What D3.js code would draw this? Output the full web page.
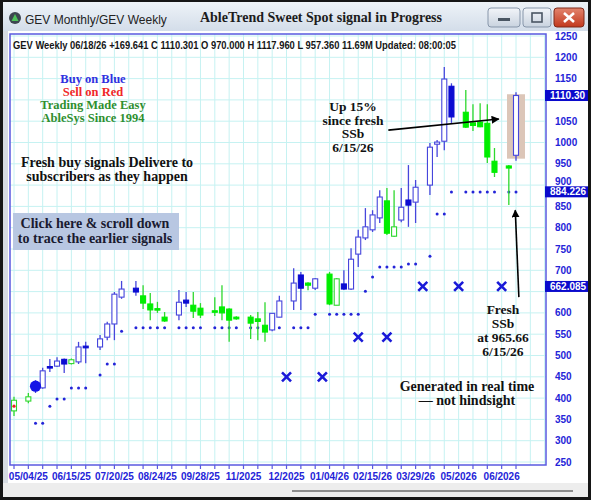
<!DOCTYPE html>
<html>
<head>
<meta charset="utf-8">
<script src="https://cdn.jsdelivr.net/npm/d3@7"></script>
<style>
  body { margin: 0; background: #000; }
</style>
</head>
<body>
<script>
// weekly bars: [slot, open, high, low, close, trend]  (b = blue, g = green)
const bars = [
  [0, 370, 403, 358, 395, 'g'],
  [2, 393, 412, 388, 403, 'g'],
  [3, 418, 442, 412, 436, 'b'],
  [4, 424, 471, 422, 464, 'b'],
  [5, 474, 492, 461, 472, 'b'],
  [6, 475, 496, 473, 487, 'b'],
  [7, 491, 493, 459, 480, 'b'],
  [8, 481, 493, 479, 490, 'g'],
  [9, 485, 532, 480, 520, 'b'],
  [10, 522, 532, 482, 518, 'b'],
  [12, 520, 548, 513, 539, 'b'],
  [13, 543, 579, 536, 574, 'b'],
  [14, 574, 649, 536, 644, 'b'],
  [15, 637, 675, 633, 656, 'b'],
  [17, 658, 675, 640, 649, 'b'],
  [18, 640, 665, 609, 623, 'g'],
  [19, 621, 647, 583, 607, 'g'],
  [20, 610, 626, 600, 609, 'g'],
  [21, 590, 602, 579, 581, 'g'],
  [23, 595, 654, 583, 625, 'b'],
  [24, 630, 649, 614, 623, 'b'],
  [25, 618, 649, 588, 604, 'g'],
  [26, 611, 623, 588, 595, 'g'],
  [28, 605, 637, 593, 603, 'g'],
  [29, 614, 665, 583, 600, 'g'],
  [30, 609, 611, 532, 583, 'g'],
  [31, 590, 592, 584, 586, 'g'],
  [33, 590, 595, 539, 576, 'g'],
  [34, 586, 602, 536, 580, 'g'],
  [35, 571, 625, 532, 555, 'g'],
  [36, 560, 600, 557, 599, 'b'],
  [37, 590, 640, 590, 628, 'b'],
  [39, 628, 705, 607, 670, 'b'],
  [40, 689, 696, 607, 658, 'b'],
  [41, 670, 672, 653, 665, 'g'],
  [42, 658, 682, 654, 680, 'b'],
  [44, 691, 696, 618, 621, 'g'],
  [45, 618, 682, 618, 680, 'g'],
  [46, 668, 700, 654, 656, 'b'],
  [47, 656, 752, 654, 726, 'b'],
  [48, 738, 795, 708, 778, 'b'],
  [49, 776, 846, 771, 802, 'b'],
  [50, 795, 841, 790, 830, 'b'],
  [51, 823, 888, 811, 872, 'b'],
  [52, 863, 893, 783, 787, 'g'],
  [53, 780, 888, 778, 802, 'g'],
  [54, 818, 893, 813, 848, 'b'],
  [55, 865, 947, 802, 853, 'b'],
  [56, 860, 912, 811, 895, 'b'],
  [58, 900, 999, 877, 989, 'b'],
  [59, 996, 1006, 966, 1001, 'b'],
  [60, 1003, 1177, 982, 1149, 'b'],
  [61, 1132, 1139, 1046, 1060, 'b'],
  [63, 1071, 1123, 1034, 1036, 'g'],
  [64, 1046, 1090, 1027, 1040, 'g'],
  [65, 1048, 1092, 1036, 1037, 'g'],
  [66, 1045, 1090, 952, 966, 'g'],
  [67, 956, 987, 919, 930, 'g'],
  [69, 945, 947, 853, 940, 'g'],
  [70, 970, 1117.96, 957.36, 1110.30, 'b']
];

// trailing support dots: [slot, price]
const stopDots = [
  [3, 341], [4, 341], [5, 381], [6, 398], [7, 398],
  [8, 424], [9, 424], [10, 424], [12, 454], [13, 480], [14, 480], [15, 557],
  [17, 565], [18, 565], [19, 565], [20, 565], [21, 565],
  [23, 565], [24, 565], [25, 565], [26, 565],
  [28, 565], [29, 565], [30, 565], [31, 565],
  [33, 565], [34, 565], [35, 565], [36, 565], [37, 565],
  [39, 565], [40, 565], [41, 565], [42, 597],
  [44, 597], [45, 597], [46, 597], [47, 597], [48, 597],
  [49, 651], [50, 684], [51, 708], [52, 708], [53, 708], [54, 708],
  [55, 715], [56, 715], [58, 733], [59, 832], [60, 832], [61, 884],
  [63, 884], [64, 884], [65, 884], [66, 884], [67, 884], [69, 884], [70, 884]
];

// blue X marks: [slot, price]
const crossMarks = [[38, 450], [43, 450], [48, 543], [52, 543], [57, 662.085], [62, 662.085], [68, 662.085]];
const buyDot = [3, 428];
const sellDot = [0, 381];

const dateTicks = [
  [2, '05/04/25'], [8, '06/15/25'], [14, '07/20/25'], [20, '08/24/25'],
  [26, '09/28/25'], [32, '11/2025'], [38, '12/2025'], [44, '01/04/26'],
  [50, '02/15/26'], [56, '03/29/26'], [62, '05/2026'], [68, '06/2026']
];
const priceTicks = [250, 300, 350, 400, 450, 500, 550, 600, 650, 700, 750,
  800, 850, 900, 950, 1000, 1050, 1100, 1150, 1200, 1250];
const levelTags = [[1110.30, '1110.30'], [884.226, '884.226'], [662.085, '662.085']];

const W = 591, H = 500;
const plot = {l: 10, r: 546, t: 34, b: 465};
const serif = "'Liberation Serif','Times New Roman',serif";
const narrow = "'Liberation Sans Narrow','Arial Narrow',sans-serif";
const sans = "'Liberation Sans',Arial,sans-serif";
const blue = '#2424d8';

const x = d3.scaleLinear().domain([0, 70]).range([14, 516]);
const y = d3.scaleLinear().domain([250, 1250]).range([462, 36]);

const svg = d3.select('body').append('svg')
  .attr('width', W)
  .attr('height', H)
  .style('display', 'block');

const defs = svg.append('defs');
const tbar = defs.append('linearGradient').attr('id', 'tbar').attr('x1', 0).attr('x2', 0).attr('y1', 0).attr('y2', 1);
tbar.append('stop').attr('offset', 0).attr('stop-color', '#eef3f8');
tbar.append('stop').attr('offset', 1).attr('stop-color', '#d3dde9');
const btn = defs.append('linearGradient').attr('id', 'btn').attr('x1', 0).attr('x2', 0).attr('y1', 0).attr('y2', 1);
btn.append('stop').attr('offset', 0).attr('stop-color', '#f2f5f9');
btn.append('stop').attr('offset', 1).attr('stop-color', '#c9d3df');
const red = defs.append('linearGradient').attr('id', 'red').attr('x1', 0).attr('x2', 0).attr('y1', 0).attr('y2', 1);
red.append('stop').attr('offset', 0).attr('stop-color', '#e3856e');
red.append('stop').attr('offset', 1).attr('stop-color', '#c2381d');
defs.append('marker')
  .attr('id', 'head')
  .attr('viewBox', '0 0 10 10')
  .attr('refX', 9).attr('refY', 5)
  .attr('markerWidth', 8).attr('markerHeight', 8)
  .attr('markerUnits', 'userSpaceOnUse')
  .attr('orient', 'auto')
  .append('path').attr('d', 'M0,0L10,5L0,10z').attr('fill', '#000');

// window frame
svg.append('rect').attr('width', W).attr('height', H).attr('fill', '#161616');
svg.append('rect').attr('x', 3).attr('y', 2).attr('width', 585).attr('height', 29).attr('fill', 'url(#tbar)');
svg.append('rect').attr('x', 3).attr('y', 31).attr('width', 585).attr('height', 452).attr('fill', '#fff');
svg.append('rect').attr('x', 3).attr('y', 31).attr('width', 5).attr('height', 452).attr('fill', '#d6dbe2');
svg.append('rect').attr('x', 3).attr('y', 483).attr('width', 585).attr('height', 14).attr('fill', '#ededed');
svg.append('line')
  .attr('x1', 292).attr('x2', 573).attr('y1', 491).attr('y2', 491)
  .attr('stroke', '#8c8c8c').attr('stroke-width', 2);

// title bar
const icon = svg.append('g').attr('transform', 'translate(15,18)');
icon.append('circle').attr('r', 6).attr('fill', '#3d4650');
icon.append('path').attr('d', 'M0,-4L3.5,3L-3.5,3z').attr('fill', '#4fc25a');
svg.append('text')
  .attr('x', 25).attr('y', 24)
  .style('font-family', sans).style('font-size', '12px').attr('fill', '#222')
  .text('GEV  Monthly/GEV  Weekly');
svg.append('text')
  .attr('x', 321).attr('y', 22).attr('text-anchor', 'middle')
  .style('font-family', serif).style('font-size', '14px').style('font-weight', 'bold').attr('fill', '#1c1c1c')
  .text('AbleTrend Sweet Spot signal in Progress');
svg.append('rect').attr('x', 488).attr('y', 8).attr('width', 32).attr('height', 19).attr('rx', 3)
  .attr('fill', 'url(#btn)').attr('stroke', '#8796aa');
svg.append('rect').attr('x', 498).attr('y', 18).attr('width', 12).attr('height', 3).attr('fill', '#4a5663');
svg.append('rect').attr('x', 523).attr('y', 8).attr('width', 28).attr('height', 19).attr('rx', 3)
  .attr('fill', 'url(#btn)').attr('stroke', '#8796aa');
svg.append('rect').attr('x', 532).attr('y', 13).attr('width', 10).attr('height', 9)
  .attr('fill', 'none').attr('stroke', '#4a5663').attr('stroke-width', 1.6);
svg.append('rect').attr('x', 554).attr('y', 8).attr('width', 30).attr('height', 19).attr('rx', 3)
  .attr('fill', 'url(#red)').attr('stroke', '#7e2a1a');
svg.append('path').attr('d', 'M564,13L574,22M574,13L564,22')
  .attr('stroke', '#fff').attr('stroke-width', 2.6);

// grid
const g = svg.append('g');
g.selectAll('.vg').data(d3.range(0, 75, 2)).enter().append('line')
  .attr('x1', d => x(d)).attr('x2', d => x(d))
  .attr('y1', plot.t).attr('y2', plot.b)
  .attr('stroke', '#c6f2f2').attr('stroke-width', 1);
g.selectAll('.hg').data(priceTicks).enter().append('line')
  .attr('x1', plot.l).attr('x2', plot.r)
  .attr('y1', d => y(d)).attr('y2', d => y(d))
  .attr('stroke', '#c6f2f2').attr('stroke-width', 1);

// annotation texts
const txt = (xx, yy, lines, size, color, step) => {
  lines.forEach((s, i) => {
    svg.append('text')
      .attr('x', xx).attr('y', yy + i * step)
      .attr('text-anchor', 'middle')
      .style('font-family', serif).style('font-size', size + 'px').style('font-weight', 'bold')
      .attr('fill', color)
      .text(s);
  });
};
txt(93, 83, ['Buy on Blue'], 12.5, '#3030e0', 0);
txt(93, 96, ['Sell on Red'], 12.5, '#f02828', 0);
txt(93, 109, ['Trading Made Easy', 'AbleSys Since 1994'], 12.5, '#2f8f2f', 13);
txt(107, 167, ['Fresh buy signals Delivere to', 'subscribers as they happen'], 14, '#111', 14);

svg.append('rect').attr('x', 13).attr('y', 213).attr('width', 166).attr('height', 37).attr('fill', '#b8c7e2');
txt(95, 228, ['Click here & scroll down', 'to trace the earlier signals'], 14, '#1a1a30', 14.5);

txt(353, 111, ['Up 15%', 'since fresh', 'SSb', '6/15/26'], 13.5, '#111', 13.5);
txt(503, 314, ['Fresh', 'SSb', 'at 965.66', '6/15/26'], 13.5, '#111', 14);
txt(467, 391, ['Generated in real time', '\u2014 not hindsight'], 14, '#111', 14);

// header line
svg.append('text')
  .attr('x', 13).attr('y', 49)
  .attr('textLength', 443).attr('lengthAdjust', 'spacingAndGlyphs')
  .style('font-family', narrow).style('font-size', '10px').style('font-weight', 'bold')
  .attr('fill', '#151515')
  .text('GEV  Weekly 06/18/26 +169.641 C 1110.301 O 970.000 H 1117.960 L 957.360 11.69M Updated: 08:00:05');

// highlight on the signal bar
const last = bars[bars.length - 1];
svg.append('rect')
  .attr('x', x(last[0]) - 9).attr('width', 18)
  .attr('y', y(last[2]) + 2).attr('height', y(last[3]) - y(last[2]) - 4)
  .attr('fill', '#dcc6b8');

// stop dots
svg.selectAll('.dot').data(stopDots).enter().append('circle')
  .attr('cx', d => x(d[0])).attr('cy', d => y(d[1]))
  .attr('r', 1.5).attr('fill', blue);

// candles
const style = {
  b: {line: '#4646dc', fill: '#0c0cd2'},
  g: {line: '#2ed82e', fill: '#00ee00'}
};
const bw = 6;
const candle = svg.selectAll('.bar').data(bars).enter().append('g');
candle.append('line')
  .attr('x1', d => x(d[0])).attr('x2', d => x(d[0]))
  .attr('y1', d => y(d[2])).attr('y2', d => y(d[3]))
  .attr('stroke', d => style[d[5]].line).attr('stroke-width', 1.3);
candle.append('rect')
  .attr('x', d => x(d[0]) - bw / 2 + 0.5).attr('width', bw - 1)
  .attr('y', d => y(Math.max(d[1], d[4])))
  .attr('height', d => Math.max(1.5, Math.abs(y(d[1]) - y(d[4]))))
  .attr('fill', d => d[4] >= d[1] ? '#fff' : style[d[5]].fill)
  .attr('stroke', d => d[4] >= d[1] ? style[d[5]].line : style[d[5]].fill)
  .attr('stroke-width', 1.1);

// signal markers
svg.append('circle').attr('cx', x(buyDot[0])).attr('cy', y(buyDot[1])).attr('r', 5.6).attr('fill', '#1414e6');
svg.append('circle').attr('cx', x(sellDot[0])).attr('cy', y(sellDot[1])).attr('r', 1.6).attr('fill', '#e82020');
svg.selectAll('.xm').data(crossMarks).enter().append('path')
  .attr('d', d => {
    const cx = x(d[0]), cy = y(d[1]), s = 4.5;
    return `M${cx - s},${cy - s}L${cx + s},${cy + s}M${cx + s},${cy - s}L${cx - s},${cy + s}`;
  })
  .attr('stroke', '#1a1ad8').attr('stroke-width', 2.6);

// arrows
svg.append('line')
  .attr('x1', x(52.2)).attr('y1', y(1029))
  .attr('x2', x(67.6)).attr('y2', y(1055))
  .attr('stroke', '#000').attr('stroke-width', 1.6)
  .attr('marker-end', 'url(#head)');
svg.append('line')
  .attr('x1', x(70.4)).attr('y1', y(637))
  .attr('x2', x(69.9)).attr('y2', y(841))
  .attr('stroke', '#000').attr('stroke-width', 1.6)
  .attr('marker-end', 'url(#head)');

// plot frame and bottom ticks
svg.append('rect')
  .attr('x', plot.l).attr('y', plot.t)
  .attr('width', plot.r - plot.l).attr('height', plot.b - plot.t)
  .attr('fill', 'none').attr('stroke', '#5a5ae0').attr('stroke-width', 1.5);
svg.selectAll('.tk').data(d3.range(0, 71, 2)).enter().append('line')
  .attr('x1', d => x(d)).attr('x2', d => x(d))
  .attr('y1', plot.b).attr('y2', plot.b + 4)
  .attr('stroke', '#5a5ae0').attr('stroke-width', 1.2);
svg.selectAll('.dl').data(dateTicks).enter().append('text')
  .attr('x', d => x(d[0])).attr('y', 480)
  .attr('text-anchor', 'middle')
  .style('font-family', narrow).style('font-size', '10px').style('font-weight', 'bold')
  .attr('fill', blue)
  .text(d => d[1]);

// price axis (labels hidden behind a level tag are left out, as on the source)
const tagGap = (v) => d3.min(levelTags, t => Math.abs(y(t[0]) - y(v)));
svg.selectAll('.pl').data(priceTicks.filter(v => tagGap(v) > 6)).enter().append('text')
  .attr('x', 555).attr('y', d => y(d)).attr('dy', d => tagGap(d) < 10 ? '-0.05em' : '0.35em')
  .style('font-family', narrow).style('font-size', '10px').style('font-weight', 'bold')
  .attr('fill', blue)
  .text(d => d);
const tag = svg.selectAll('.tag').data(levelTags).enter().append('g');
tag.append('rect')
  .attr('x', 545).attr('y', d => y(d[0]) - 5.5)
  .attr('width', 43).attr('height', 11)
  .attr('fill', '#0a0acc');
tag.append('text')
  .attr('x', 550).attr('y', d => y(d[0])).attr('dy', '0.35em')
  .style('font-family', narrow).style('font-size', '10px').style('font-weight', 'bold')
  .attr('fill', '#fff')
  .text(d => d[1]);
</script>
</body>
</html>
